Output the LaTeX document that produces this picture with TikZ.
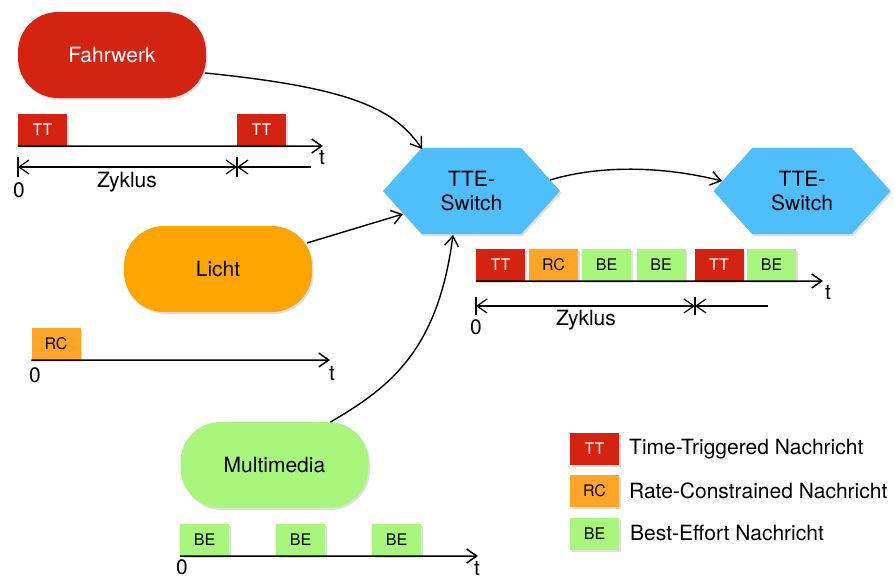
\documentclass[tikz,border=0pt]{standalone}
\usepackage{fontspec}
\setmainfont{TeX Gyre Heros}
\usetikzlibrary{arrows.meta,shapes.symbols,shadows}
\definecolor{ttred}{HTML}{D52311}
\definecolor{rcorange}{HTML}{FFA629}
\definecolor{lichtorange}{HTML}{FFA500}
\definecolor{begreen}{HTML}{A8F67C}
\definecolor{swblue}{HTML}{4EBFFB}
\begin{document}
\begin{tikzpicture}[x=1pt,y=-1pt,
  shd/.style={drop shadow={shadow xshift=1.5pt,shadow yshift=-2pt,opacity=0.25}},
  big/.style={font=\fontsize{21}{24}\selectfont},
  proc/.style={rectangle,rounded corners=40pt,minimum width=188pt,minimum height=86pt,inner sep=0pt,big,shd},
  sw/.style={signal,signal to=east and west,signal pointer angle=96,fill=swblue,minimum width=177pt,minimum height=86pt,inner sep=0pt,big,align=center,shd},
  msg/.style={rectangle,minimum width=49pt,minimum height=32pt,inner sep=0pt,font=\fontsize{16}{19}\selectfont,shd},
  tip/.style={-{Straight Barb[length=10pt,width=14pt]}},
  conn/.style={line width=1.4pt,tip},
  axisline/.style={line width=1.5pt,tip},
  dimline/.style={line width=1.2pt},
  lbl/.style={font=\fontsize{21}{24}\selectfont,inner sep=0pt},
  legtext/.style={font=\fontsize{21}{24}\selectfont,inner sep=0pt,anchor=west}
]
\useasboundingbox (0,0) rectangle (895,579);

% process nodes
\node[proc,fill=ttred,text=white] (fw) at (112,55) {Fahrwerk};
\node[proc,fill=lichtorange] (li) at (218,269) {Licht};
\node[proc,fill=begreen] (mm) at (274.5,465) {Multimedia};

% switches
\node[sw] (sw1) at (471.5,191) {TTE-\\Switch};
\node[sw] (sw2) at (802,191) {TTE-\\Switch};

% connectors
\draw[conn] ([shift={(93,18)}]fw.center) .. controls +(150,15) and +(-27,-39) .. ([shift={(-49.5,-42)}]sw1.center);
\draw[conn] ([shift={(89,-26)}]li.center) -- ([shift={(-68.5,23)}]sw1.center);
\draw[conn] ([shift={(56,-43)}]mm.center) .. controls +(60,-35) and +(-15,115) .. ([shift={(-18.5,44)}]sw1.center);
\draw[conn] ([shift={(78.5,-11)}]sw1.center) .. controls +(50,-15) and +(-60,-15) .. ([shift={(-80,-10)}]sw2.center);

% Fahrwerk timeline
\node[msg,fill=ttred,text=white] (f1) at (42.5,130) {TT};
\node[msg,fill=ttred,text=white] (f2) at (261.5,130) {TT};
\draw[axisline] (f1.south west) -- (323,146);
\node[lbl] (ft) at (322,158) {t};
\draw[dimline] (18,157) -- (18,177);
\draw[dimline] (237,157) -- (237,177);
\draw[dimline,{Straight Barb[length=10pt,width=14pt]}-{Straight Barb[length=10pt,width=14pt]}] (18,167) -- (237,167);
\draw[dimline,tip] (311,167) -- (237,167);
\node[lbl] (f0) at (19,190) {0};
\node[lbl] (fz) at (127,182) {Zyklus};

% Licht timeline
\node[msg,fill=rcorange] (r1) at (56,344) {RC};
\draw[axisline] (r1.south west) -- (330,360);
\node[lbl] (r0) at (35,375) {0};
\node[lbl] (rt) at (332,374) {t};

% Multimedia timeline
\node[msg,fill=begreen] (b1) at (204.5,540) {BE};
\node[msg,fill=begreen] (b2) at (300.5,540) {BE};
\node[msg,fill=begreen] (b3) at (396.5,540) {BE};
\draw[axisline] (b1.south west) -- (478,556);
\node[lbl] (b0) at (182,567) {0};
\node[lbl] (bt) at (477,569) {t};

% switch output timeline
\node[msg,fill=ttred,text=white] (s1) at (500.5,265) {TT};
\node[msg,fill=rcorange] (s2) at (553.5,265) {RC};
\node[msg,fill=begreen] (s3) at (606.5,265) {BE};
\node[msg,fill=begreen] (s4) at (661,265) {BE};
\node[msg,fill=ttred,text=white] (s5) at (719,265) {TT};
\node[msg,fill=begreen] (s6) at (771.5,265) {BE};
\draw[axisline] (s1.south west) -- (823,281);
\node[lbl] (st) at (828,293) {t};
\draw[dimline] (476,297) -- (476,315);
\draw[dimline] (695,297) -- (695,315);
\draw[dimline,{Straight Barb[length=10pt,width=14pt]}-{Straight Barb[length=10pt,width=14pt]}] (476,306) -- (695,306);
\draw[dimline,tip] (768,306) -- (695,306);
\node[lbl] (s0) at (476,327) {0};
\node[lbl] (sz) at (586,320) {Zyklus};

% legend
\node[msg,fill=ttred,text=white] (l1) at (594.5,448.5) {TT};
\node[msg,fill=rcorange] (l2) at (594.5,491) {RC};
\node[msg,fill=begreen] (l3) at (594.5,534) {BE};
\node[legtext] (l1t) at (629,449) {Time-Triggered Nachricht};
\node[legtext] (l2t) at (629,491) {Rate-Constrained Nachricht};
\node[legtext] (l3t) at (630,533) {Best-Effort Nachricht};
\end{tikzpicture}
\end{document}
